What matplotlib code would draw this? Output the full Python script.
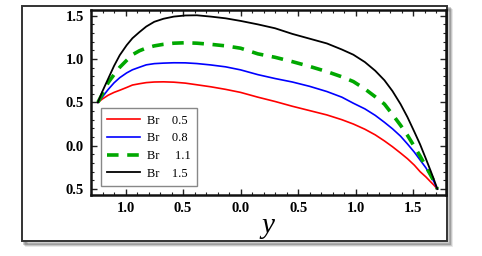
import matplotlib

matplotlib.use("Agg")
import matplotlib.pyplot as plt
from matplotlib.patches import Rectangle
from matplotlib.ticker import MultipleLocator, FixedLocator, FixedFormatter

# ---- data ------------------------------------------------------------------
y_pos = [-1.24, -1.20, -1.15, -1.10, -1.05, -0.99, -0.94, -0.88, -0.82, -0.75,
         -0.67, -0.58, -0.48, -0.38, -0.26, -0.13, 0.00, 0.15, 0.30, 0.45,
         0.60, 0.75, 0.88, 0.98, 1.08, 1.17, 1.25, 1.32, 1.39, 1.45,
         1.51, 1.56, 1.61, 1.65, 1.68, 1.71]
theta_br05 = [0.50, 0.54, 0.583, 0.615, 0.64, 0.672, 0.70, 0.715, 0.728, 0.735,
              0.737, 0.733, 0.722, 0.703, 0.68, 0.65, 0.615, 0.56, 0.51, 0.455,
              0.405, 0.355, 0.30, 0.25, 0.19, 0.125, 0.055, -0.012, -0.085, -0.15,
              -0.225, -0.30, -0.36, -0.415, -0.455, -0.50]
theta_br08 = [0.50, 0.565, 0.65, 0.725, 0.785, 0.84, 0.876, 0.905, 0.933, 0.947,
              0.953, 0.957, 0.956, 0.948, 0.932, 0.91, 0.875, 0.82, 0.775, 0.735,
              0.685, 0.625, 0.56, 0.49, 0.425, 0.35, 0.27, 0.195, 0.11, 0.02,
              -0.075, -0.165, -0.255, -0.345, -0.415, -0.50]
theta_br11 = [0.50, 0.60, 0.73, 0.82, 0.905, 0.985, 1.05, 1.095, 1.127, 1.152,
              1.17, 1.183, 1.188, 1.183, 1.17, 1.152, 1.125, 1.06, 1.02, 0.97,
              0.915, 0.855, 0.795, 0.74, 0.655, 0.565, 0.48, 0.36, 0.236, 0.12,
              -0.01, -0.12, -0.24, -0.335, -0.41, -0.50]
theta_br15 = [0.50, 0.63, 0.775, 0.92, 1.045, 1.16, 1.24, 1.31, 1.375, 1.43,
              1.465, 1.49, 1.503, 1.505, 1.49, 1.47, 1.44, 1.40, 1.355, 1.29,
              1.235, 1.18, 1.11, 1.05, 0.965, 0.865, 0.755, 0.63, 0.48, 0.33,
              0.16, 0.015, -0.15, -0.285, -0.39, -0.50]

series = [
    ("Br    0.5", theta_br05),
    ("Br    0.8", theta_br08),
    ("Br     1.1", theta_br11),
    ("Br    1.5", theta_br15),
]

# tick labels as printed (minus signs are missing in the original)
xtick_vals = [-1.0, -0.5, 0.0, 0.5, 1.0, 1.5]
xtick_text = ["1.0", "0.5", "0.0", "0.5", "1.0", "1.5"]
ytick_vals = [-0.5, 0.0, 0.5, 1.0, 1.5]
ytick_text = ["0.5", "0.0", "0.5", "1.0", "1.5"]

SERIF = ["Liberation Serif", "DejaVu Serif"]

fig = plt.figure(figsize=(4.82, 2.56), dpi=100)

# outer frame with a soft shadow
for off, a in ((4, 0.10), (3, 0.15), (2, 0.22)):
    fig.patches.append(Rectangle((22 / 482 + off / 482, 15 / 256 - off / 256), 425 / 482, 235 / 256,
                                 transform=fig.transFigure, facecolor="none",
                                 edgecolor=(0, 0, 0, a), lw=2.0, zorder=0))
fig.patches.append(Rectangle((22 / 482, 15 / 256), 425 / 482, 235 / 256,
                             transform=fig.transFigure, facecolor="white",
                             edgecolor="#333333", lw=1.4, zorder=1))

ax = fig.add_axes([91 / 482, 61 / 256, 355 / 482, 185 / 256])
ax.set_zorder(2)

styles = [
    dict(color="#ff0000", lw=1.2, ls="-"),
    dict(color="#0000ff", lw=1.2, ls="-"),
    dict(color="#00a800", lw=2.6, ls=(0, (3.2, 2.4))),
    dict(color="black", lw=1.3, ls="-"),
]
for (label, vals), st in zip(series, styles):
    ax.plot(y_pos, vals, label=label, solid_joinstyle="round", **st)

ax.set_xlim(-1.30, 1.785)
ax.set_ylim(-0.569, 1.566)

ax.xaxis.set_major_locator(FixedLocator(xtick_vals))
ax.xaxis.set_major_formatter(FixedFormatter(xtick_text))
ax.yaxis.set_major_locator(FixedLocator(ytick_vals))
ax.yaxis.set_major_formatter(FixedFormatter(ytick_text))
ax.xaxis.set_minor_locator(MultipleLocator(0.1))
ax.yaxis.set_minor_locator(MultipleLocator(0.1))
ax.tick_params(which="both", direction="in", top=True, right=True, color="#222222")
ax.tick_params(which="major", length=4, width=1.0, pad=5)
ax.tick_params(which="minor", length=2, width=0.8)
for lab in ax.get_xticklabels() + ax.get_yticklabels():
    lab.set_fontfamily(SERIF)
    lab.set_fontweight("bold")
    lab.set_fontsize(10.5)
for sp in ax.spines.values():
    sp.set_linewidth(1.8)
    sp.set_color("#111111")

leg = ax.legend(loc="lower left", bbox_to_anchor=(0.011, 0.016), fancybox=False,
                framealpha=1, edgecolor="#888888", handlelength=2.6, handletextpad=0.6,
                borderpad=0.5, labelspacing=0.45, prop={"family": SERIF, "size": 9})
leg.get_frame().set_linewidth(1.0)

fig.text(268 / 482, 1 - 226 / 256, "y", ha="center", va="center",
         fontsize=21, style="italic", family=SERIF)

fig.savefig("out.png", dpi=100)
